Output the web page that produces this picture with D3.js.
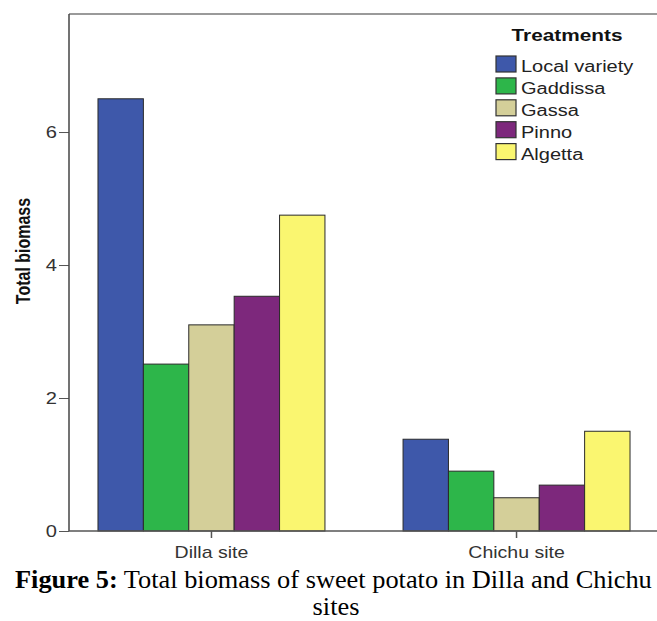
<!DOCTYPE html>
<html>
<head>
<meta charset="utf-8">
<script src="https://cdn.jsdelivr.net/npm/d3@7"></script>
<style>
  html, body { margin: 0; padding: 0; background: #fff; }
  svg { display: block; }
</style>
</head>
<body>
<script>
// ---- data ----
const sites = ["Dilla site", "Chichu site"];
const treatments = ["Local variety", "Gaddissa", "Gassa", "Pinno", "Algetta"];
const dillaValues = [6.50, 2.51, 3.10, 3.53, 4.75];
const chichuValues = [1.38, 0.90, 0.50, 0.69, 1.50];
const yTicks = [0, 2, 4, 6];
const colors = ["#3E58AA", "#2DB64A", "#D4CF99", "#7D287C", "#FAF670"];
const legendTitle = "Treatments";
const yLabel = "Total biomass";
const captionBold = "Figure 5:";
const captionRest = " Total biomass of sweet potato in Dilla and Chichu";
const captionLine2 = "sites";

(function () {
const valuesBySite = [dillaValues, chichuValues];

const W = 657, H = 621;
const SX = 1.22; // horizontal stretch of the original text
const svg = d3.select("body").append("svg").attr("width", W).attr("height", H);

const pLeft = 69, pTop = 14, pBottom = 531, pRight = 659;

const y = d3.scaleLinear().domain([0, 7.775]).range([pBottom, pTop]);
const x0 = d3.scaleBand().domain(sites).range([pLeft, pRight]).paddingInner(0.256).paddingOuter(0.095);
const x1 = d3.scaleBand().domain(treatments).range([0, x0.bandwidth()]).padding(0);
const color = d3.scaleOrdinal().domain(treatments).range(colors);

// top frame line
svg.append("line").attr("x1", pLeft).attr("x2", W).attr("y1", pTop).attr("y2", pTop)
  .attr("stroke", "#9a9a9a").attr("stroke-width", 2);

// bars
const groups = svg.append("g").selectAll("g").data(sites).join("g")
  .attr("transform", d => `translate(${x0(d)},0)`);
groups.selectAll("rect")
  .data((s, i) => treatments.map((t, j) => ({ t, v: valuesBySite[i][j] })))
  .join("rect")
  .attr("x", d => x1(d.t))
  .attr("width", x1.bandwidth())
  .attr("y", d => y(d.v))
  .attr("height", d => y(0) - y(d.v))
  .attr("fill", d => color(d.t))
  .attr("stroke", "#2a2a2a").attr("stroke-width", 1);

function stretchTexts(sel) {
  sel.selectAll("text").each(function () {
    const t = d3.select(this);
    const xx = +t.attr("x") || 0;
    const yy = +t.attr("y") || 0;
    t.attr("x", 0).attr("y", 0)
      .attr("transform", `translate(${xx},${yy}) scale(${SX},1)`);
  });
}

// y axis
const yAxis = svg.append("g").attr("transform", `translate(${pLeft},0)`)
  .call(d3.axisLeft(y).tickValues(yTicks).tickFormat(d3.format("d")).tickSize(10).tickPadding(2).tickSizeOuter(0));
yAxis.select(".domain").remove();
yAxis.append("line").attr("x1", 0).attr("x2", 0).attr("y1", pTop).attr("y2", pBottom)
  .attr("stroke", "#444").attr("stroke-width", 1.5);
yAxis.selectAll(".tick line").attr("stroke", "#555");
yAxis.selectAll("text").attr("fill", "#333")
  .style("font-family", "'Liberation Sans', Arial, sans-serif").style("font-size", "16.5px");
stretchTexts(yAxis);

// x axis
const xAxis = svg.append("g").attr("transform", `translate(0,${pBottom})`)
  .call(d3.axisBottom(x0).tickSize(7).tickPadding(4).tickSizeOuter(0));
xAxis.select(".domain").remove();
xAxis.append("line").attr("x1", pLeft).attr("x2", W).attr("y1", 0).attr("y2", 0)
  .attr("stroke", "#555").attr("stroke-width", 1.5);
xAxis.selectAll(".tick line").attr("stroke", "#555").attr("stroke-width", 1.5);
xAxis.selectAll("text").attr("fill", "#333").attr("dy", null).attr("y", 27)
  .style("font-family", "'Liberation Sans', Arial, sans-serif").style("font-size", "16px");
stretchTexts(xAxis);

// y label
svg.append("text")
  .attr("transform", `translate(30,251) scale(1.28,1) rotate(-90)`)
  .attr("text-anchor", "middle")
  .style("font-family", "'Liberation Sans', Arial, sans-serif")
  .style("font-size", "16px").style("font-weight", "bold").attr("fill", "#111")
  .text(yLabel);

// legend
const legend = svg.append("g");
legend.append("text")
  .attr("transform", `translate(567,41) scale(1.3,1)`)
  .attr("text-anchor", "middle")
  .style("font-family", "'Liberation Sans', Arial, sans-serif")
  .style("font-size", "16px").style("font-weight", "bold").attr("fill", "#111")
  .text(legendTitle);
const rows = legend.selectAll("g.row").data(treatments).join("g").attr("class", "row")
  .attr("transform", (d, i) => `translate(0,${72 + i * 21.9})`);
rows.append("rect").attr("x", 496).attr("y", -16).attr("width", 20).attr("height", 16)
  .attr("fill", d => color(d)).attr("stroke", "#333").attr("stroke-width", 1.2);
rows.append("text")
  .attr("transform", `translate(521,0) scale(1.25,1)`)
  .style("font-family", "'Liberation Sans', Arial, sans-serif")
  .style("font-size", "16px").attr("fill", "#222")
  .text(d => d);

// caption
const cap = svg.append("text").attr("transform", "translate(15,587.8) scale(1.063,1)")
  .style("font-family", "'Liberation Serif', 'Times New Roman', serif")
  .style("font-size", "24.8px").attr("fill", "#000");
cap.append("tspan").style("font-weight", "bold").text(captionBold);
cap.append("tspan").text(captionRest);
svg.append("text").attr("transform", "translate(336,615.4) scale(1.063,1)").attr("text-anchor", "middle")
  .style("font-family", "'Liberation Serif', 'Times New Roman', serif")
  .style("font-size", "24.8px").attr("fill", "#000")
  .text(captionLine2);
})();
</script>
</body>
</html>
